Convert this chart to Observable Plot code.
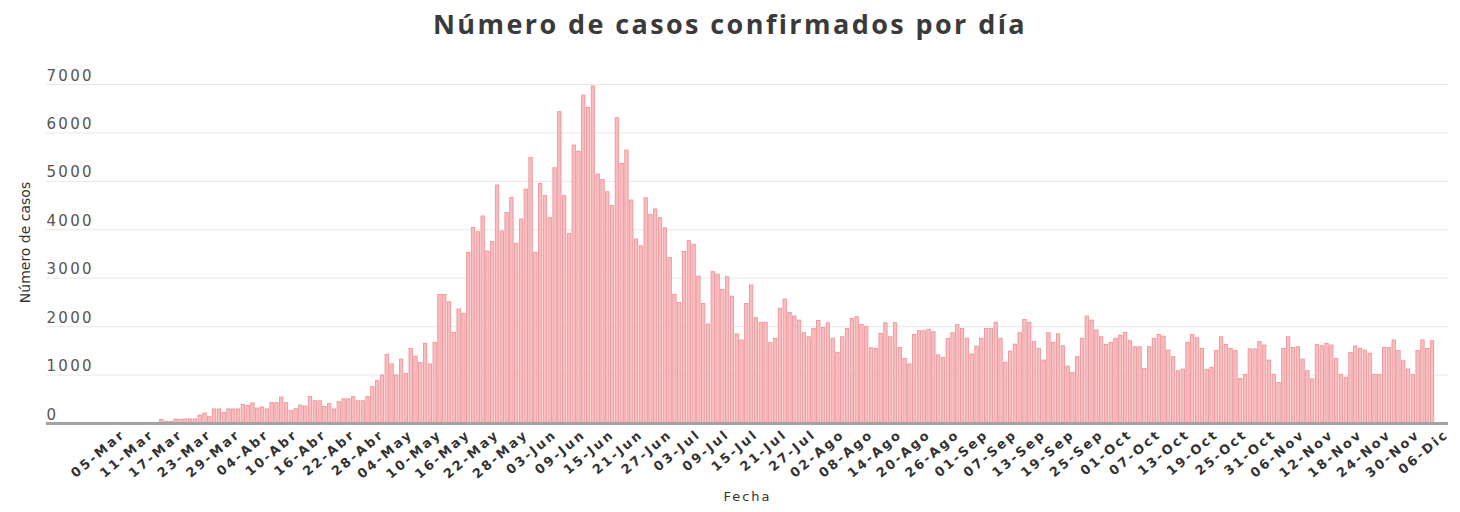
<!DOCTYPE html>
<html><head><meta charset="utf-8">
<script src="https://cdn.jsdelivr.net/npm/d3@7"></script>
<script src="https://cdn.jsdelivr.net/npm/@observablehq/plot@0.6"></script>
<style>
body{margin:0;background:#fff;}
#title{height:48px;line-height:48px;text-align:center;font-family:"Open Sans";font-weight:700;font-size:27px;color:#3a3a3a;letter-spacing:2.4px;}
</style></head><body>
<div id="title">Número de casos confirmados por día</div>
<div id="chart"></div>
<script>
const startDate = "2020-03-05";
const cases = [
1, 1, 3, 2, 6, 10, 8, 10, 76, 35, 35,
83, 80, 85, 83, 85,
165, 207, 138, 290, 290, 220, 290, 290, 290, 380, 360, 415, 310, 330, 290, 420, 420, 535, 420, 258, 295,
370, 350, 545, 460, 460, 340, 400, 290, 440, 500, 500, 545, 460, 460, 545,
750, 875, 990, 1420, 1220, 990, 1320, 1025, 1540, 1380, 1250, 1645, 1220, 1665,
2655, 2655, 2505, 1870, 2355, 2265, 3525, 4040, 3950, 4275, 3550, 3745, 4915, 3965, 4345,
4660, 3710, 4210, 4830, 5485, 3525, 4950, 4695, 4240, 5270, 6430, 4695, 3915, 5740, 5615, 6770, 6515, 6960, 5140, 5030,
4775, 4490, 6305, 5360, 5635, 4605, 3800, 3660, 4650, 4310, 4420, 4240, 4030, 3415, 2655, 2490, 3540, 3765, 3690, 3035, 2470, 2045, 3125, 3075, 2760, 3020, 2620, 1840,
1715, 2470, 2850, 2175, 2080, 2080, 1660, 1750, 2370, 2560, 2285, 2210, 2125, 1865, 1780, 1955, 2115, 1975, 2070, 1750, 1460, 1780, 1955, 2160, 2195, 2035, 1990, 1555, 1540, 1850, 2070, 1780, 2070, 1560, 1335, 1220, 1830, 1905, 1905, 1935, 1885, 1405, 1355, 1750, 1865, 2035, 1955, 1750,
1425, 1590, 1750, 1955, 1955, 2080, 1750, 1255, 1485, 1630, 1865, 2140, 2080, 1680, 1540, 1300, 1865, 1665, 1840, 1595, 1175, 1045, 1370, 1750, 2210, 2125, 1920, 1780, 1625, 1665, 1750, 1815, 1870, 1700, 1575, 1575, 1130, 1575, 1750, 1830, 1795, 1505, 1370, 1080, 1115, 1665, 1830, 1760,
1540, 1110, 1150, 1495, 1780, 1625, 1540, 1495, 920, 1005, 1530, 1530, 1680, 1610, 1300, 1005, 835, 1540, 1780, 1560, 1575, 1320, 1080, 910, 1625, 1595, 1645, 1610, 1335, 1005, 945, 1460, 1590, 1540, 1505, 1440, 1005, 1005, 1560, 1560, 1715, 1495, 1285, 1115, 1005, 1495, 1715, 1540, 1700
];
const tickLabels = ["05-Mar","11-Mar","17-Mar","23-Mar","29-Mar","04-Abr","10-Abr","16-Abr","22-Abr","28-Abr",
"04-May","10-May","16-May","22-May","28-May","03-Jun","09-Jun","15-Jun","21-Jun","27-Jun",
"03-Jul","09-Jul","15-Jul","21-Jul","27-Jul","02-Ago","08-Ago","14-Ago","20-Ago","26-Ago",
"01-Sep","07-Sep","13-Sep","19-Sep","25-Sep","01-Oct","07-Oct","13-Oct","19-Oct","25-Oct","31-Oct",
"06-Nov","12-Nov","18-Nov","24-Nov","30-Nov","06-Dic"];
const yTicks = [0, 1000, 2000, 3000, 4000, 5000, 6000, 7000];
const monthIndex = {Ene:0, Feb:1, Mar:2, Abr:3, May:4, Jun:5, Jul:6, Ago:7, Sep:8, Oct:9, Nov:10, Dic:11};

const DAY = 864e5;
const start = new Date(startDate + "T00:00:00Z");
const data = cases.map((v, i) => ({date: new Date(+start + i * DAY), cases: v}));
const tickDates = tickLabels.map(s => { const [d, m] = s.split("-"); return new Date(Date.UTC(2020, monthIndex[m], +d)); });
const fmt = new Map(tickDates.map((d, k) => [+d, tickLabels[k]]));

const chart = Plot.plot({
  width: 1460, height: 464,
  marginTop: 36, marginBottom: 89, marginLeft: 46, marginRight: 12,
  style: {fontFamily: "DejaVu Sans", background: "#fff", overflow: "visible"},
  x: {type: "utc", domain: [new Date(+start - 16.06 * DAY), new Date(+start + 276.33 * DAY)], axis: null},
  y: {domain: [0, 7000], axis: null},
  marks: [
    Plot.ruleY(yTicks.slice(1), {stroke: "#e8e8e8", strokeWidth: 1}),
    Plot.rectY(data, {x1: d => new Date(+d.date - DAY / 2), x2: d => new Date(+d.date + DAY / 2), y: "cases",
      fill: "#f6bec1", stroke: "#ee8e93", strokeWidth: 0.8, insetLeft: 0.7, insetRight: 0.7}),
    Plot.ruleY([0], {stroke: "#a3a3a3", strokeWidth: 3}),
    Plot.text(yTicks, {y: d => d, text: d => String(d), frameAnchor: "left", textAnchor: "start", lineAnchor: "bottom", dy: -4, fill: "#555", fontSize: 15}),
    Plot.axisX(tickDates, {tickFormat: d => fmt.get(+d), tickRotate: -40, tickSize: 0, tickPadding: 9, fontSize: 13, fontWeight: "bold", fill: "#333", label: null}),
    Plot.text(["Número de casos"], {text: d => d, frameAnchor: "left", textAnchor: "middle", dx: -21, dy: -11.5, rotate: -90, fontSize: 14, fill: "#333"}),
    Plot.text(["Fecha"], {text: d => d, frameAnchor: "bottom", dy: 77, fontSize: 13, fill: "#333"})
  ]
});
const textGroups = chart.querySelectorAll('g[aria-label="text"]');
if (textGroups[0]) textGroups[0].setAttribute("letter-spacing", "2.3px");
if (textGroups[2]) textGroups[2].setAttribute("letter-spacing", "2px");
const xt = chart.querySelector('g[aria-label="x-axis tick label"]');
if (xt) xt.setAttribute("letter-spacing", "2.4px");
document.getElementById("chart").appendChild(chart);
</script>
</body></html>
